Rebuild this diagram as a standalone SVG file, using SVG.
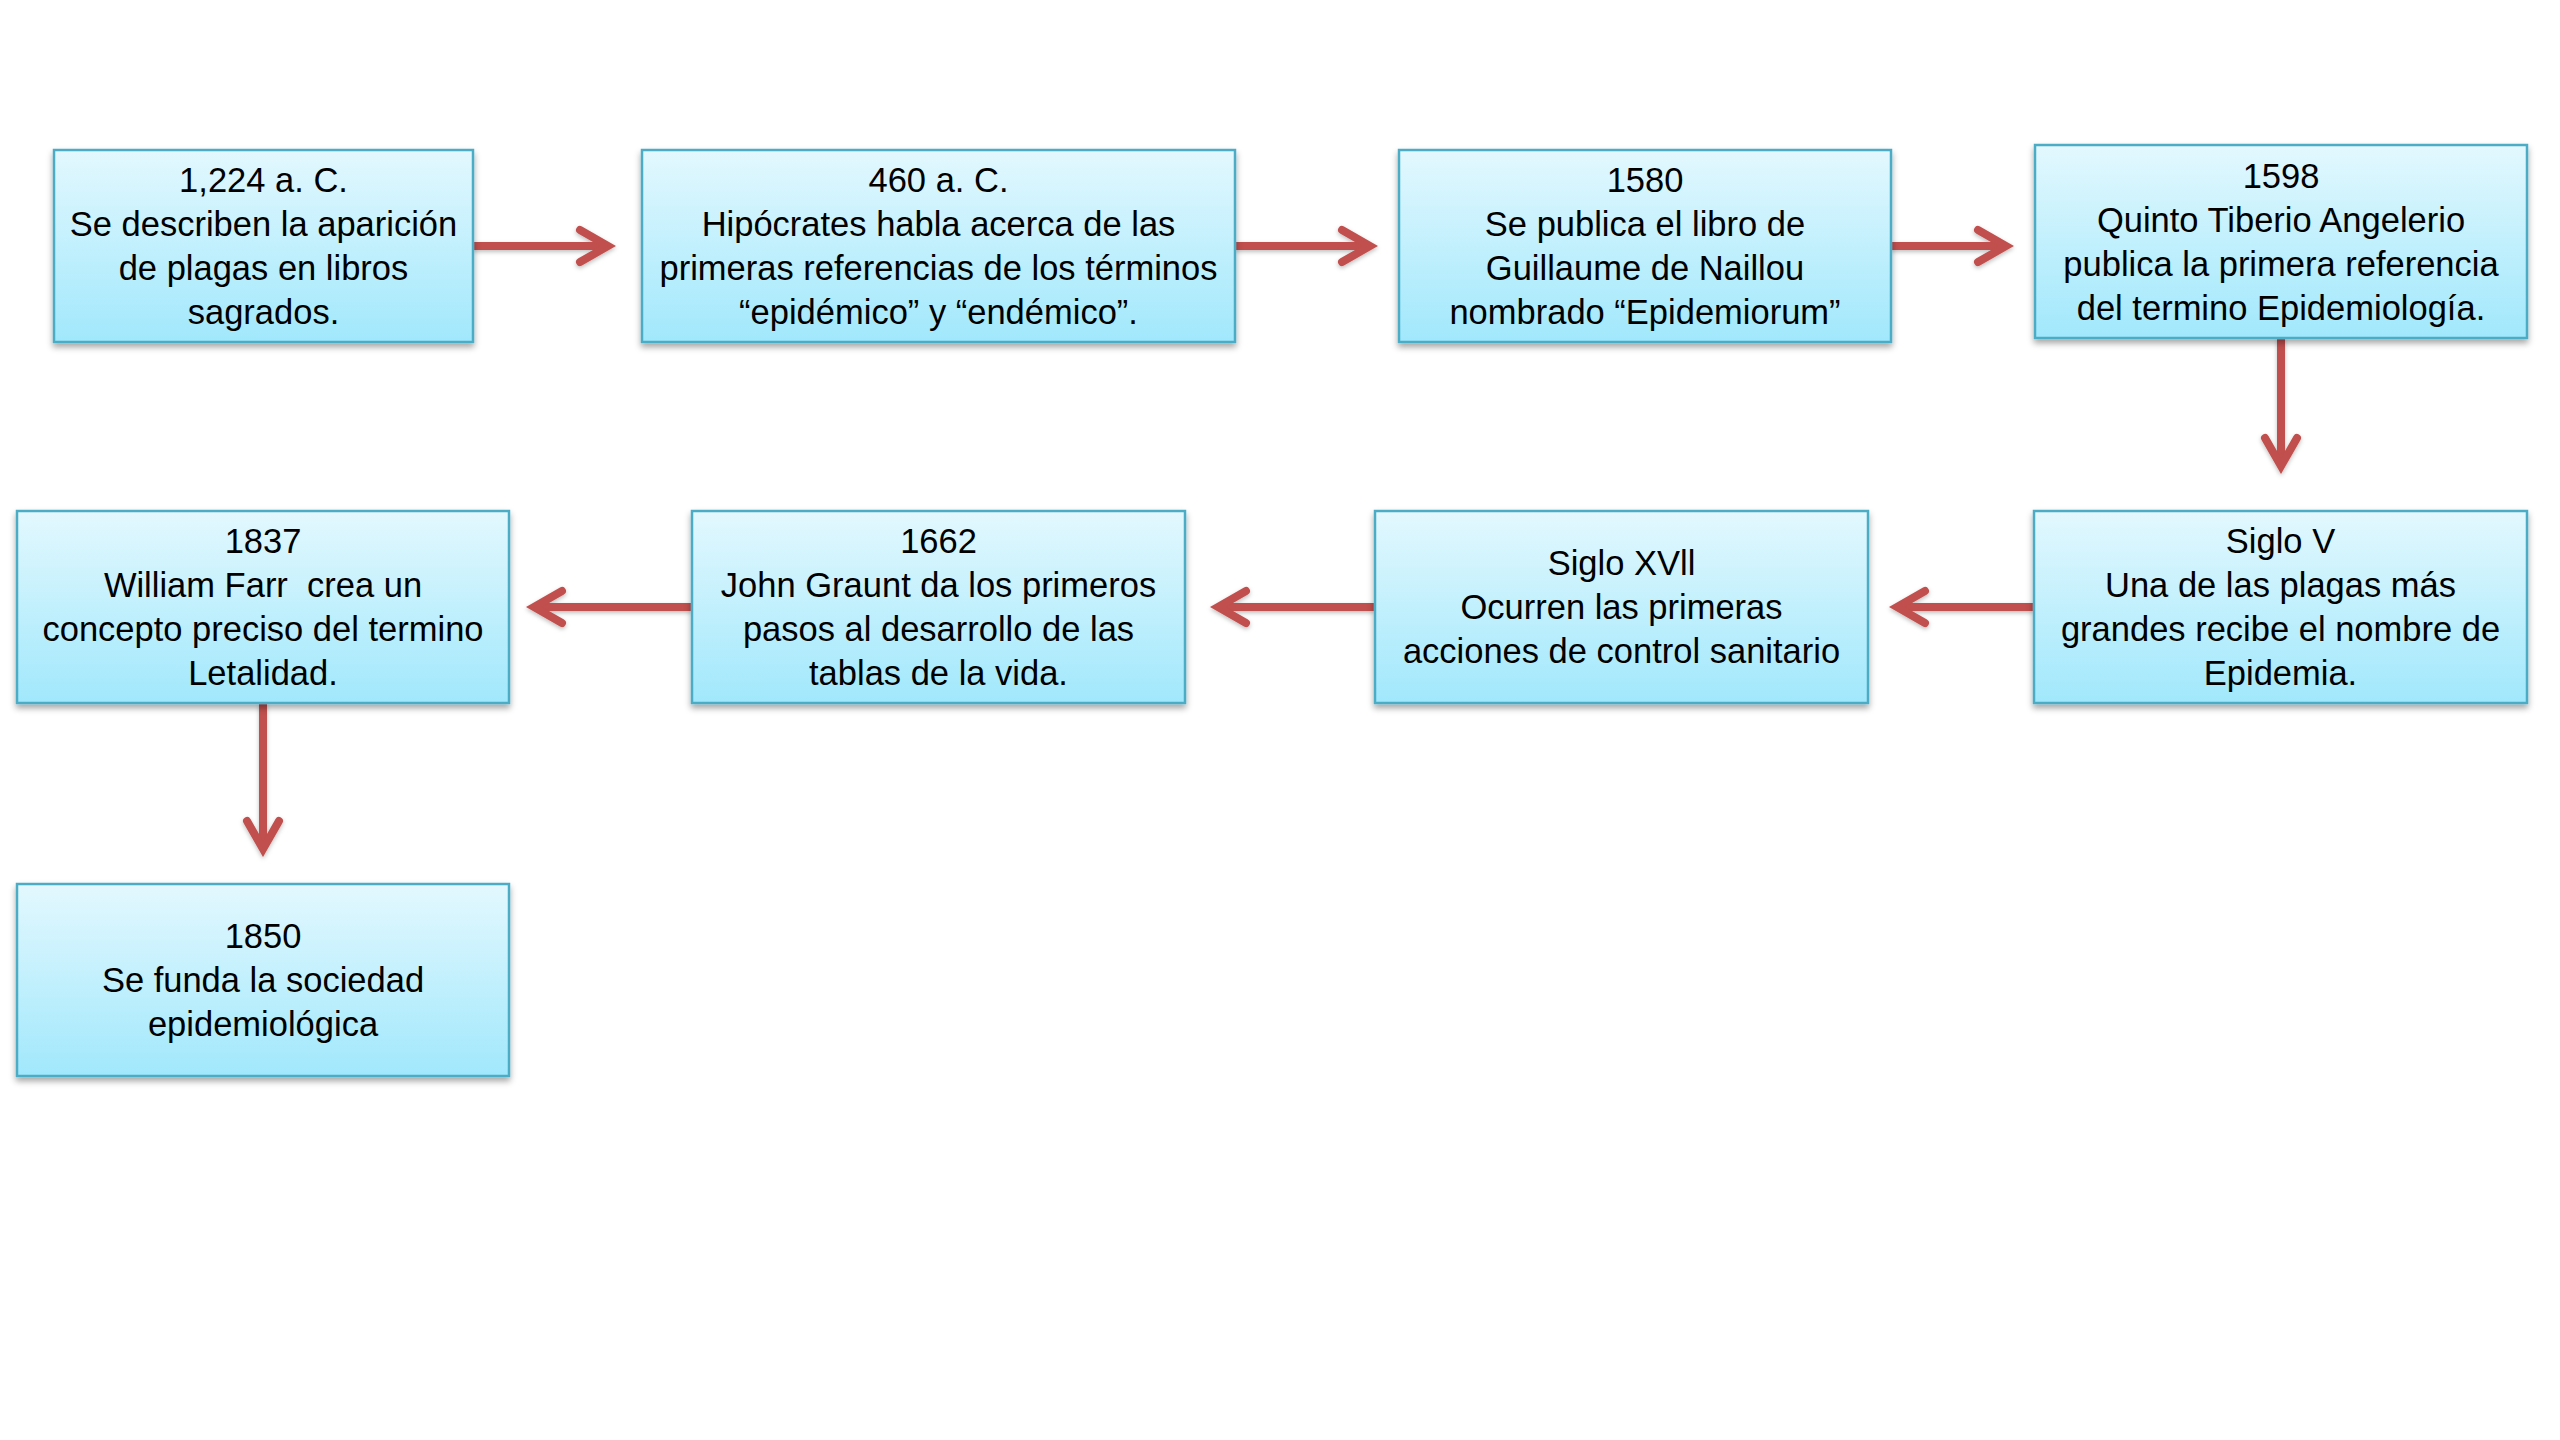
<svg xmlns="http://www.w3.org/2000/svg" width="2560" height="1440" viewBox="0 0 2560 1440">
<style>
.box{fill:url(#g);stroke:#4BACC6;stroke-width:2.5;filter:url(#sh)}
.t{font-family:"Liberation Sans",Arial,sans-serif;font-size:34.5px;fill:#000;text-anchor:middle;white-space:pre}
.c{fill:none;stroke:#C0504D;stroke-width:8;marker-end:url(#ah)}
</style>
<defs>
<linearGradient id="g" x1="0" y1="0" x2="0" y2="1">
<stop offset="0" stop-color="#E3F8FE"/>
<stop offset="1" stop-color="#A1E8FC"/>
</linearGradient>
<filter id="sh" x="-10%" y="-10%" width="120%" height="130%">
<feDropShadow dx="0" dy="4" stdDeviation="3" flood-color="#000" flood-opacity="0.35"/>
</filter>
<filter id="sh2" filterUnits="userSpaceOnUse" x="0" y="0" width="2560" height="1440">
<feDropShadow dx="0" dy="2" stdDeviation="2" flood-color="#000" flood-opacity="0.25"/>
</filter>
<marker id="ah" markerUnits="userSpaceOnUse" viewBox="-40 -24 48 48" markerWidth="48" markerHeight="48" refX="0" refY="0" orient="auto">
<path d="M-28,-16 L0,0 L-28,16" fill="none" stroke="#C0504D" stroke-width="8" stroke-linecap="round" stroke-linejoin="miter"/>
</marker>
</defs>
<rect width="2560" height="1440" fill="#fff"/>
<g id="connectors" filter="url(#sh2)">
<path class="c" d="M473,246 H608"/>
<path class="c" d="M1235,246 H1370"/>
<path class="c" d="M1891,246 H2006"/>
<path class="c" d="M2281,338 V466"/>
<path class="c" d="M2034,607 H1897"/>
<path class="c" d="M1375,607 H1218"/>
<path class="c" d="M692,607 H534"/>
<path class="c" d="M263,703 V849"/>
</g>
<g id="n1">
<rect class="box" x="54" y="150" width="419" height="192"/>
<text class="t"><tspan x="263.5" y="191.5">1,224 a. C.</tspan><tspan x="263.5" y="235.5">Se describen la aparición</tspan><tspan x="263.5" y="279.5">de plagas en libros</tspan><tspan x="263.5" y="323.5">sagrados.</tspan></text>
</g>
<g id="n2">
<rect class="box" x="642" y="150" width="593" height="192"/>
<text class="t"><tspan x="938.5" y="191.5">460 a. C.</tspan><tspan x="938.5" y="235.5">Hipócrates habla acerca de las</tspan><tspan x="938.5" y="279.5">primeras referencias de los términos</tspan><tspan x="938.5" y="323.5">“epidémico” y “endémico”.</tspan></text>
</g>
<g id="n3">
<rect class="box" x="1399" y="150" width="492" height="192"/>
<text class="t"><tspan x="1645" y="191.5">1580</tspan><tspan x="1645" y="235.5">Se publica el libro de</tspan><tspan x="1645" y="279.5">Guillaume de Naillou</tspan><tspan x="1645" y="323.5">nombrado “Epidemiorum”</tspan></text>
</g>
<g id="n4">
<rect class="box" x="2035" y="145" width="492" height="193"/>
<text class="t"><tspan x="2281" y="187.5">1598</tspan><tspan x="2281" y="231.5">Quinto Tiberio Angelerio</tspan><tspan x="2281" y="275.5">publica la primera referencia</tspan><tspan x="2281" y="319.5">del termino Epidemiología.</tspan></text>
</g>
<g id="n5">
<rect class="box" x="2034" y="511" width="493" height="192"/>
<text class="t"><tspan x="2280.5" y="553">Siglo V</tspan><tspan x="2280.5" y="597">Una de las plagas más</tspan><tspan x="2280.5" y="641">grandes recibe el nombre de</tspan><tspan x="2280.5" y="685">Epidemia.</tspan></text>
</g>
<g id="n6">
<rect class="box" x="1375" y="511" width="493" height="192"/>
<text class="t"><tspan x="1621.5" y="575">Siglo XVll</tspan><tspan x="1621.5" y="619">Ocurren las primeras</tspan><tspan x="1621.5" y="663">acciones de control sanitario</tspan></text>
</g>
<g id="n7">
<rect class="box" x="692" y="511" width="493" height="192"/>
<text class="t"><tspan x="938.5" y="553">1662</tspan><tspan x="938.5" y="597">John Graunt da los primeros</tspan><tspan x="938.5" y="641">pasos al desarrollo de las</tspan><tspan x="938.5" y="685">tablas de la vida.</tspan></text>
</g>
<g id="n8">
<rect class="box" x="17" y="511" width="492" height="192"/>
<text class="t"><tspan x="263" y="553">1837</tspan><tspan x="263" y="597">William Farr  crea un</tspan><tspan x="263" y="641">concepto preciso del termino</tspan><tspan x="263" y="685">Letalidad.</tspan></text>
</g>
<g id="n9">
<rect class="box" x="17" y="884" width="492" height="192"/>
<text class="t"><tspan x="263" y="948">1850</tspan><tspan x="263" y="992">Se funda la sociedad</tspan><tspan x="263" y="1036">epidemiológica</tspan></text>
</g>
</svg>
